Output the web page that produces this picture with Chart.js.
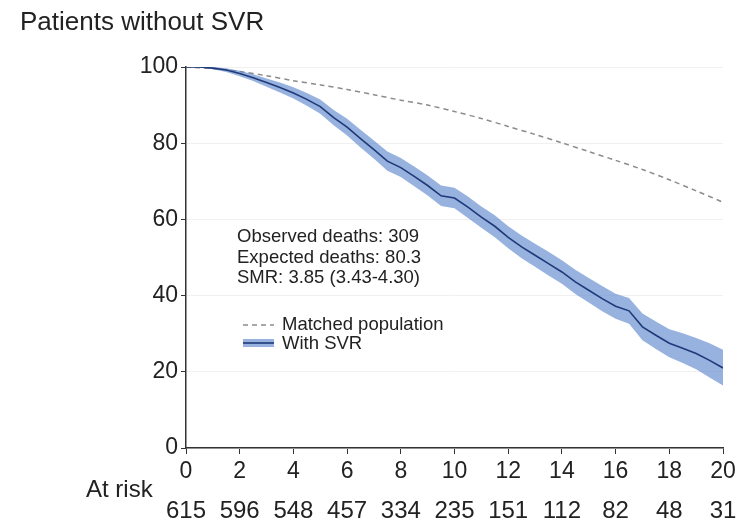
<!DOCTYPE html>
<html>
<head>
<meta charset="utf-8">
<script src="https://cdn.jsdelivr.net/npm/chart.js@4/dist/chart.umd.min.js"></script>
<style>
  html, body { margin: 0; padding: 0; background: #fff; }
  canvas { display: block; }
</style>
</head>
<body>
<canvas id="myChart" width="745" height="522"></canvas>
<script>
// years since treatment, observed survival (with 95% CI) for patients without SVR
var years = [0, 0.5, 1, 1.5, 2, 2.5, 3, 3.5, 4, 4.5, 5, 5.5, 6, 6.5, 7, 7.5, 8, 8.5, 9, 9.5,
  10, 10.5, 11, 11.5, 12, 12.5, 13, 13.5, 14, 14.5, 15, 15.5, 16, 16.5, 17, 17.5, 18, 18.5, 19, 19.5, 20];
var observed = [100, 100, 99.7, 99.2, 98.3, 97.2, 95.9, 94.6, 93.2, 91.5, 89.6, 86.7, 84.2, 81.2, 78.3, 75.3,
  73.6, 71.3, 68.9, 66.2, 65.6, 63.2, 60.6, 58.2, 55.3, 52.8, 50.6, 48.4, 46.2, 43.6, 41.4, 39.2, 37.2, 36.0,
  31.8, 29.6, 27.5, 26.2, 24.8, 23.0, 21.0];
var ciUpper = [100, 100, 100, 99.7, 99.0, 98.1, 97.0, 95.9, 94.7, 93.2, 91.5, 88.7, 86.4, 83.5, 80.7, 77.8,
  76.1, 73.9, 71.5, 68.9, 68.3, 66.0, 63.4, 61.1, 58.2, 55.8, 53.6, 51.5, 49.3, 46.8, 44.6, 42.5, 40.5, 39.4,
  35.3, 33.2, 31.2, 30.1, 28.9, 27.5, 25.8];
var ciLower = [100, 99.9, 99.4, 98.7, 97.6, 96.3, 94.8, 93.3, 91.7, 89.8, 87.7, 84.7, 82.0, 78.9, 75.9, 72.8,
  71.1, 68.7, 66.3, 63.5, 62.9, 60.4, 57.8, 55.3, 52.4, 49.8, 47.6, 45.3, 43.1, 40.4, 38.2, 35.9, 33.9, 32.6,
  28.3, 26.0, 23.8, 22.3, 20.7, 18.5, 16.4];

// expected survival of the matched general population
var matchedYears = [0, 1, 2, 3, 4, 5, 6, 7, 8, 9, 10, 11, 12, 13, 14, 15, 16, 17, 18, 19, 20];
var matched = [100, 99.6, 98.8, 97.7, 96.4, 95.3, 94.1, 92.7, 91.3, 90.0, 88.3, 86.5, 84.4, 82.3, 80.1,
  77.8, 75.5, 73.1, 70.4, 67.5, 64.5];

var xTicks = [0, 2, 4, 6, 8, 10, 12, 14, 16, 18, 20];
var atRisk = [615, 596, 548, 457, 334, 235, 151, 112, 82, 48, 31];
var yTicks = [0, 20, 40, 60, 80, 100];

var notes = ["Observed deaths: 309", "Expected deaths: 80.3", "SMR: 3.85 (3.43-4.30)"];

var FONT = "'Liberation Sans', Arial, Helvetica, sans-serif";
var TEXT = "#222";

function pts(xs, ys) {
  return xs.map(function (x, i) { return { x: x, y: ys[i] }; });
}

var extras = {
  id: 'extras',
  afterDraw: function (chart) {
    var ctx = chart.ctx;
    var xs = chart.scales.x;
    var area = chart.chartArea;
    ctx.save();
    ctx.fillStyle = TEXT;

    // title
    ctx.font = "26px " + FONT;
    ctx.textAlign = 'left';
    ctx.textBaseline = 'middle';
    ctx.fillText("Patients without SVR", 20, 23);

    // annotation
    ctx.font = "18.5px " + FONT;
    notes.forEach(function (t, i) {
      ctx.fillText(t, area.left + 51, 237 + i * 20.5);
    });

    // legend
    var lx = area.left + 57;
    ctx.strokeStyle = '#8c8c8c';
    ctx.lineWidth = 1.5;
    ctx.setLineDash([5, 4]);
    ctx.beginPath();
    ctx.moveTo(lx, 325);
    ctx.lineTo(lx + 31, 325);
    ctx.stroke();
    ctx.setLineDash([]);
    ctx.fillStyle = 'rgba(96,137,206,0.65)';
    ctx.fillRect(lx, 339, 31, 8);
    ctx.strokeStyle = '#1e3a78';
    ctx.lineWidth = 1.6;
    ctx.beginPath();
    ctx.moveTo(lx, 343);
    ctx.lineTo(lx + 31, 343);
    ctx.stroke();
    ctx.fillStyle = TEXT;
    ctx.fillText("Matched population", lx + 39, 325);
    ctx.fillText("With SVR", lx + 39, 344);

    // numbers at risk
    ctx.font = "24px " + FONT;
    ctx.fillText("At risk", 86, 490);
    ctx.textAlign = 'center';
    xTicks.forEach(function (t, i) {
      ctx.fillText(String(atRisk[i]), xs.getPixelForValue(t), 511);
    });
    ctx.restore();
  }
};

var chart = () => {
  var ctx = document.getElementById('myChart').getContext('2d');
  new Chart(ctx, {
    type: 'line',
    data: {
      datasets: [{
        label: 'CI upper',
        data: pts(years, ciUpper),
        borderWidth: 0,
        pointRadius: 0,
        backgroundColor: 'rgba(96,137,206,0.65)',
        fill: '+1',
        order: 3
      }, {
        label: 'CI lower',
        data: pts(years, ciLower),
        borderWidth: 0,
        pointRadius: 0,
        fill: false,
        order: 3
      }, {
        label: 'With SVR',
        data: pts(years, observed),
        borderColor: '#1e3a78',
        borderWidth: 1.6,
        pointRadius: 0,
        fill: false,
        order: 1
      }, {
        label: 'Matched population',
        data: pts(matchedYears, matched),
        borderColor: '#8c8c8c',
        borderWidth: 1.5,
        borderDash: [5, 4],
        pointRadius: 0,
        tension: 0.3,
        fill: false,
        order: 5
      }]
    },
    options: {
      responsive: false,
      animation: false,
      events: [],
      layout: { padding: { top: 67, right: 22, left: 0, bottom: 0 } },
      plugins: {
        legend: { display: false },
        tooltip: { enabled: false },
        title: { display: false }
      },
      scales: {
        x: {
          type: 'linear',
          min: 0,
          max: 20,
          afterFit: function (s) { s.height = 74; },
          afterBuildTicks: function (s) { s.ticks = xTicks.map(function (v) { return { value: v }; }); },
          border: { color: '#333', width: 1.5 },
          grid: { drawOnChartArea: false, color: '#333', tickColor: '#333', tickLength: 6 },
          ticks: { color: TEXT, font: { family: FONT, size: 23 }, padding: 4, maxRotation: 0 }
        },
        y: {
          min: 0,
          max: 100,
          afterFit: function (s) { s.width = 186; },
          afterBuildTicks: function (s) { s.ticks = yTicks.map(function (v) { return { value: v }; }); },
          border: { color: '#333', width: 1.5 },
          grid: { color: '#f0f0f0', tickColor: '#333', tickLength: 5 },
          ticks: { color: TEXT, font: { family: FONT, size: 23 }, padding: 3 }
        }
      }
    },
    plugins: [extras]
  });
};
window.onload = chart();
</script>
</body>
</html>
